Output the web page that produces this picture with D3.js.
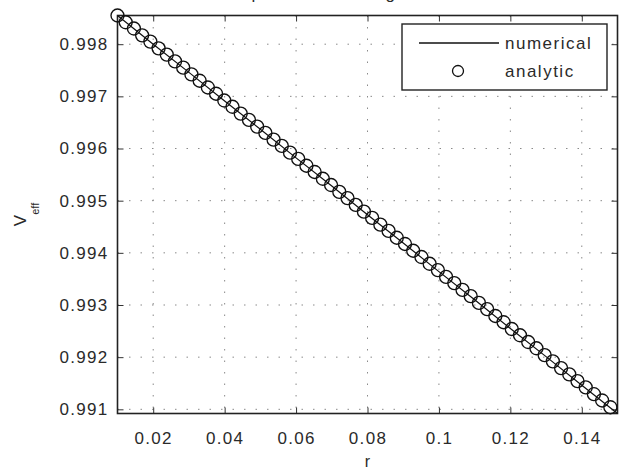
<!DOCTYPE html>
<html>
<head>
<meta charset="utf-8">
<script src="https://cdn.jsdelivr.net/npm/d3@7"></script>
<style>
  body { margin: 0; background: #fff; }
  svg { display: block; }
  text { font-family: "Liberation Sans", Arial, sans-serif; fill: #2a2a2a; }
</style>
</head>
<body>
<div id="chart"></div>
<script>
// ---------------------------------------------------------------------------
// Data

// numerical solution, drawn as a solid line
const rNumerical = [
  0.01, 0.02, 0.03, 0.04, 0.05, 0.06, 0.07, 0.08,
  0.09, 0.10, 0.11, 0.12, 0.13, 0.14, 0.15
];
const vNumerical = [
  0.99855, 0.99800, 0.99746, 0.99691, 0.99637, 0.99582, 0.99528, 0.99473,
  0.99419, 0.99364, 0.99310, 0.99255, 0.99201, 0.99146, 0.99092
];

// analytic solution, drawn as open circles
const rAnalytic = [
  0.0100, 0.0123, 0.0146, 0.0169, 0.0192, 0.0215, 0.0238, 0.0261,
  0.0284, 0.0307, 0.0330, 0.0353, 0.0376, 0.0399, 0.0422, 0.0445,
  0.0468, 0.0491, 0.0514, 0.0537, 0.0560, 0.0583, 0.0606, 0.0629,
  0.0652, 0.0675, 0.0698, 0.0721, 0.0744, 0.0767, 0.0790, 0.0813,
  0.0836, 0.0859, 0.0882, 0.0905, 0.0928, 0.0951, 0.0974, 0.0997,
  0.1020, 0.1043, 0.1066, 0.1089, 0.1112, 0.1135, 0.1158, 0.1181,
  0.1204, 0.1227, 0.1250, 0.1273, 0.1296, 0.1319, 0.1342, 0.1365,
  0.1388, 0.1411, 0.1434, 0.1457, 0.1480
];
const vAnalytic = [
  0.99855, 0.99842, 0.99830, 0.99817, 0.99805, 0.99792, 0.99780, 0.99767,
  0.99755, 0.99742, 0.99730, 0.99717, 0.99705, 0.99692, 0.99680, 0.99667,
  0.99655, 0.99642, 0.99630, 0.99617, 0.99605, 0.99592, 0.99580, 0.99567,
  0.99555, 0.99542, 0.99530, 0.99517, 0.99505, 0.99492, 0.99479, 0.99467,
  0.99454, 0.99442, 0.99429, 0.99417, 0.99404, 0.99392, 0.99379, 0.99367,
  0.99354, 0.99342, 0.99329, 0.99317, 0.99304, 0.99292, 0.99279, 0.99267,
  0.99254, 0.99242, 0.99229, 0.99217, 0.99204, 0.99192, 0.99179, 0.99167,
  0.99154, 0.99142, 0.99129, 0.99117, 0.99104
];

const xTicks = [0.02, 0.04, 0.06, 0.08, 0.1, 0.12, 0.14];
const xTickLabels = ['0.02', '0.04', '0.06', '0.08', '0.1', '0.12', '0.14'];
const yTicks = [0.991, 0.992, 0.993, 0.994, 0.995, 0.996, 0.997, 0.998];
const yTickLabels = ['0.991', '0.992', '0.993', '0.994', '0.995', '0.996', '0.997', '0.998'];
const legendLabels = ['numerical', 'analytic'];

// ---------------------------------------------------------------------------
// Layout
const width = 623;
const height = 470;
const margin = { top: 15.5, right: 5.5, bottom: 56.5, left: 117.5 };
const plotW = width - margin.left - margin.right;
const plotH = height - margin.top - margin.bottom;
const tickLen = 6;

const svg = d3.select('#chart').append('svg')
  .attr('width', width)
  .attr('height', height);

const x = d3.scaleLinear().domain(d3.extent(rNumerical)).range([0, plotW]);
const y = d3.scaleLinear().domain(d3.extent(vNumerical)).range([plotH, 0]);

const g = svg.append('g').attr('transform', `translate(${margin.left},${margin.top})`);

// grid (dotted)
const grid = g.append('g').attr('class', 'grid')
  .attr('stroke', '#8a8a8a')
  .attr('stroke-width', 1)
  .attr('stroke-dasharray', '1.5,10');
grid.selectAll('.vgrid').data(xTicks).enter().append('line')
  .attr('x1', d => x(d)).attr('x2', d => x(d))
  .attr('y1', 0).attr('y2', plotH);
grid.selectAll('.hgrid').data(yTicks).enter().append('line')
  .attr('x1', 0).attr('x2', plotW)
  .attr('y1', d => y(d)).attr('y2', d => y(d));

// axes: inside ticks on all four sides
const axisStyle = sel => {
  sel.select('.domain').remove();
  sel.selectAll('line').attr('stroke', '#333').attr('stroke-width', 1);
  sel.selectAll('text')
    .style('font-size', '17px')
    .style('letter-spacing', '1.3px')
    .attr('fill', '#2a2a2a');
};

g.append('g')
  .attr('transform', `translate(0,${plotH})`)
  .call(d3.axisBottom(x).tickValues(xTicks)
    .tickFormat((d, i) => xTickLabels[i])
    .tickSizeInner(-tickLen).tickSizeOuter(0).tickPadding(tickLen + 12))
  .call(axisStyle);

g.append('g')
  .call(d3.axisTop(x).tickValues(xTicks).tickFormat('')
    .tickSizeInner(-tickLen).tickSizeOuter(0))
  .call(axisStyle);

g.append('g')
  .call(d3.axisLeft(y).tickValues(yTicks)
    .tickFormat((d, i) => yTickLabels[i])
    .tickSizeInner(-tickLen).tickSizeOuter(0).tickPadding(9))
  .call(axisStyle);

g.append('g')
  .attr('transform', `translate(${plotW},0)`)
  .call(d3.axisRight(y).tickValues(yTicks).tickFormat('')
    .tickSizeInner(-tickLen).tickSizeOuter(0))
  .call(axisStyle);

// frame
g.append('rect')
  .attr('width', plotW).attr('height', plotH)
  .attr('fill', 'none')
  .attr('stroke', '#222')
  .attr('stroke-width', 1.6);

// numerical line
const line = d3.line().x((d, i) => x(rNumerical[i])).y(d => y(d));
g.append('path')
  .datum(vNumerical)
  .attr('d', line)
  .attr('fill', 'none')
  .attr('stroke', '#111')
  .attr('stroke-width', 1.2);

// analytic markers
g.selectAll('.marker').data(vAnalytic).enter().append('circle')
  .attr('class', 'marker')
  .attr('cx', (d, i) => x(rAnalytic[i]))
  .attr('cy', d => y(d))
  .attr('r', 6.5)
  .attr('fill', 'none')
  .attr('stroke', '#111')
  .attr('stroke-width', 1.35);

// legend
const legend = g.append('g').attr('transform', `translate(${402 - margin.left},${24 - margin.top})`);
legend.append('rect')
  .attr('width', 205).attr('height', 66)
  .attr('fill', '#fff')
  .attr('stroke', '#222')
  .attr('stroke-width', 1.4);
legend.append('line')
  .attr('x1', 17).attr('x2', 97).attr('y1', 19).attr('y2', 19)
  .attr('stroke', '#111').attr('stroke-width', 1.4);
legend.append('circle')
  .attr('cx', 56).attr('cy', 47).attr('r', 5.5)
  .attr('fill', 'none').attr('stroke', '#111').attr('stroke-width', 1.3);
legend.selectAll('.legend-label').data(legendLabels).enter().append('text')
  .attr('x', 103)
  .attr('y', (d, i) => 25 + i * 28)
  .style('font-size', '17px')
  .style('letter-spacing', '1.5px')
  .text(d => d);

// axis labels
svg.append('text')
  .attr('x', margin.left + plotW / 2)
  .attr('y', 467)
  .attr('text-anchor', 'middle')
  .style('font-size', '16px')
  .text('r');

const yLabel = svg.append('text')
  .attr('transform', `translate(26,${margin.top + plotH / 2}) rotate(-90)`)
  .attr('text-anchor', 'middle')
  .style('font-size', '17px');
yLabel.append('tspan').text('V');
yLabel.append('tspan').attr('dy', 13).style('font-size', '11px').text('eff');

// title (mostly clipped off the top of the figure)
const title = svg.append('text')
  .attr('x', 331)
  .attr('y', -1)
  .attr('text-anchor', 'middle')
  .style('font-size', '17px')
  .style('letter-spacing', '1px');
title.append('tspan').text('Comparison of V');
title.append('tspan').style('font-size', '11px').text('eff');
title.append('tspan').text(' against r');
</script>
</body>
</html>
